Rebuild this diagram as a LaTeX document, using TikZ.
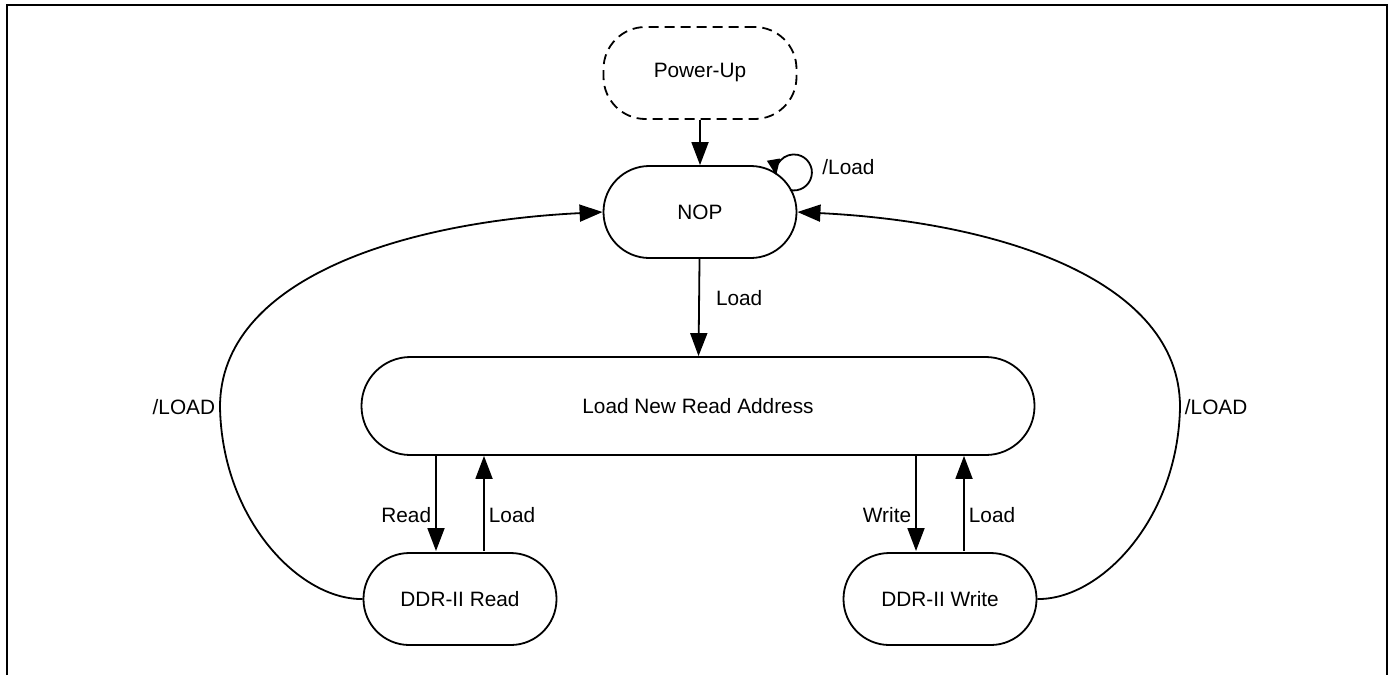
\documentclass[tikz,border=0pt]{standalone}
\usepackage{fontspec}
\setmainfont{Liberation Sans}
\usepackage{tikz}
\usetikzlibrary{arrows.meta}
\tikzstyle{Txt}=[font=\fontsize{10.4}{12}\selectfont]
\tikzstyle{State}=[Txt,draw,rectangle,line width=0.9pt,inner sep=0pt]
\tikzstyle{StateSmall}=[State,minimum width=96.5pt,minimum height=46pt,
rounded corners=22.9pt]
\tikzstyle{StateWide}=[State,minimum width=336.5pt,minimum height=49pt,
rounded corners=24.4pt]
\tikzstyle{StateInit}=[StateSmall,dash pattern=on 5pt off 3pt,rounded corners=21pt]
\tikzstyle{Edge}=[draw,line width=0.9pt,
-{Triangle[length=11.5pt,width=8.5pt]}]
\tikzstyle{EdgeLbl}=[Txt,inner sep=2pt]

\begin{document}
\begin{tikzpicture}[x=.5pt,y=-.5pt]
    \useasboundingbox (0,0) rectangle (1390,675);
    \draw[line width=1.3pt] (7,675) -- (7,5) -- (1387,5) -- (1387,675);
        \node[StateInit](PowerUp)at(700,73){Power-Up};
        \node[StateSmall](NOP)at(700,212){NOP};
        \node[StateWide](LoadAddr)at(698,406){Load New Read Address};
        \node[StateSmall](DDRRead)at(460,599){DDR-II Read};
        \node[StateSmall](DDRWrite)at(940,599){DDR-II Write};
        \coordinate(rdIn)at(436,551);
        \coordinate(rdOut)at(484,551);
        \coordinate(wrIn)at(916,551);
        \coordinate(wrOut)at(964,551);
        \coordinate(loopA)at(790,190);
        \draw[Edge](PowerUp)--(NOP);
        \draw[Edge](NOP)--node[EdgeLbl,right,pos=.4,xshift=6pt]{Load}(LoadAddr);
        \draw[Edge](LoadAddr.south-|rdIn)--node[EdgeLbl,left,pos=.625]{Read}(rdIn);
        \draw[Edge](rdOut)--node[EdgeLbl,right,pos=.375]{Load}(LoadAddr.south-|rdOut);
        \draw[Edge](LoadAddr.south-|wrIn)--node[EdgeLbl,left,pos=.625]{Write}(wrIn);
        \draw[Edge](wrOut)--node[EdgeLbl,right,pos=.375]{Load}(LoadAddr.south-|wrOut);
        \draw[Edge](DDRRead.west)..controls(300,600)and(222,520)..(220,407)
            node[EdgeLbl,left]{/LOAD}
            ..controls(220,280)and(400,222)..(NOP.west);
        \draw[Edge](DDRWrite.east)..controls(1100,600)and(1178,520)..(1180,407)
            node[EdgeLbl,right]{/LOAD}
            ..controls(1180,280)and(1000,222)..(NOP.east);
        \draw[Edge,-{Triangle[length=8pt,width=6.5pt]}](loopA)
            arc[start angle=102.5,end angle=-189.5,radius=18];
        \node[EdgeLbl,anchor=west](loopLbl)at(818,167){/Load};
    \end{tikzpicture}
\end{document}
